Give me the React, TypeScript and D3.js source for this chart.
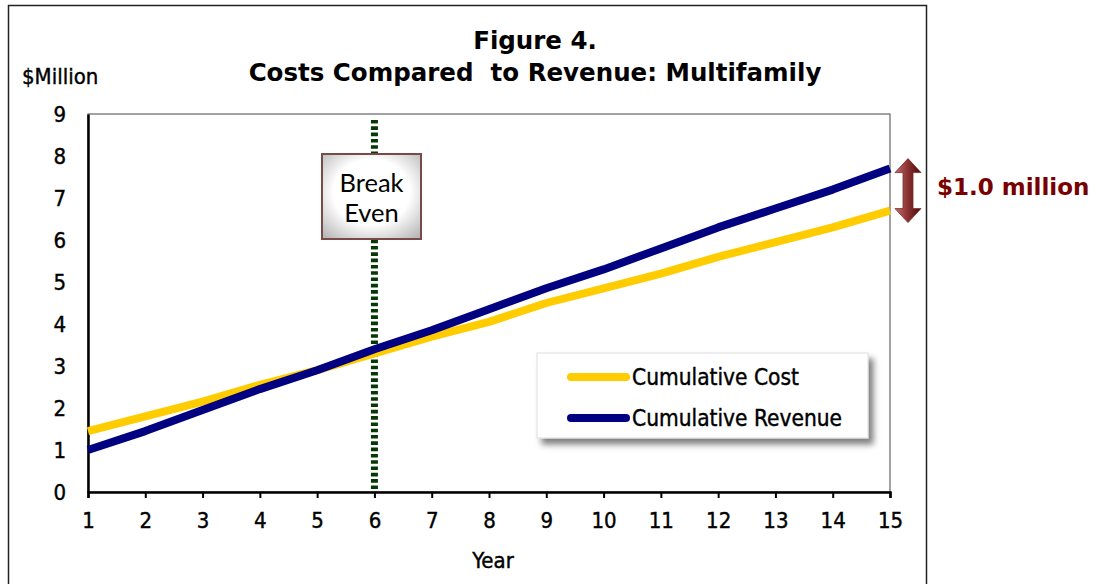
import { useEffect, useRef } from 'react';
import * as d3 from 'd3';

const years = [1, 2, 3, 4, 5, 6, 7, 8, 9, 10, 11, 12, 13, 14, 15];
const cumulativeCost = [1.45, 1.8, 2.15, 2.55, 2.9, 3.3, 3.7, 4.05, 4.5, 4.85, 5.2, 5.6, 5.95, 6.3, 6.7];
const cumulativeRevenue = [1.0, 1.45, 1.95, 2.45, 2.9, 3.4, 3.85, 4.35, 4.85, 5.3, 5.8, 6.3, 6.75, 7.2, 7.7];
const yTicks = [0, 1, 2, 3, 4, 5, 6, 7, 8, 9];
const breakEvenYear = 6;
const seriesNames = ['Cumulative Cost', 'Cumulative Revenue'];
const seriesColors = ['#FFCC00', '#000080'];

export default function App() {
  const svgRef = useRef<SVGSVGElement>(null);

  useEffect(() => {
    const svg = d3.select(svgRef.current);
    svg.selectAll('*').remove();

    const W = 1094, H = 584;
    const m = { left: 88, right: 890, top: 114, bottom: 492 };
    const bold = 'DejaVu Sans, Verdana, sans-serif';
    const cond = '"DejaVu Sans Condensed", "DejaVu Sans", sans-serif';

    const x = d3.scaleLinear().domain([1, 15]).range([m.left, m.right]);
    const y = d3.scaleLinear().domain([0, 9]).range([m.bottom, m.top]);

    const defs = svg.append('defs');
    const sh = defs.append('filter').attr('id', 'shadow').attr('x', '-10%').attr('y', '-20%').attr('width', '130%').attr('height', '160%');
    sh.append('feDropShadow').attr('dx', 5).attr('dy', 6).attr('stdDeviation', 3).attr('flood-color', '#000').attr('flood-opacity', 0.5);

    const bev = defs.append('radialGradient').attr('id', 'bevel').attr('cx', '50%').attr('cy', '45%').attr('r', '70%');
    bev.append('stop').attr('offset', '55%').attr('stop-color', '#ffffff');
    bev.append('stop').attr('offset', '100%').attr('stop-color', '#b8b8b8');

    const arrowGrad = defs.append('linearGradient').attr('id', 'arrowGrad').attr('x1', 0).attr('x2', 1).attr('y1', 0).attr('y2', 0);
    arrowGrad.append('stop').attr('offset', '0%').attr('stop-color', '#c07070');
    arrowGrad.append('stop').attr('offset', '50%').attr('stop-color', '#8a3030');
    arrowGrad.append('stop').attr('offset', '100%').attr('stop-color', '#4a0a0a');

    svg.append('rect').attr('width', W).attr('height', H).attr('fill', '#fff');

    // outer frame
    svg.append('path')
      .attr('d', 'M8.5,600 V5.5 H926.5 V600')
      .attr('fill', 'none').attr('stroke', '#222').attr('stroke-width', 1.5);

    // titles
    svg.append('text').attr('x', 535).attr('y', 49).attr('text-anchor', 'middle')
      .attr('font-family', bold).attr('font-weight', 'bold').attr('font-size', 24.5).text('Figure 4.');
    svg.append('text').attr('x', 535).attr('y', 81).attr('text-anchor', 'middle')
      .attr('font-family', bold).attr('font-weight', 'bold').attr('font-size', 24.5)
      .attr('xml:space', 'preserve').text('Costs Compared  to Revenue: Multifamily');
    svg.append('text').attr('x', 22).attr('y', 84)
      .attr('font-family', cond).attr('font-size', 22).attr('stroke', '#000').attr('stroke-width', 0.4).text('$Million');

    // plot border
    svg.append('rect').attr('x', m.left).attr('y', m.top).attr('width', m.right - m.left).attr('height', m.bottom - m.top)
      .attr('fill', 'none').attr('stroke', '#444').attr('stroke-width', 1);

    // y axis
    const yAxis = svg.append('g').attr('transform', `translate(${m.left},0)`)
      .call(d3.axisLeft(y).tickValues(yTicks).tickSize(0).tickPadding(22));
    yAxis.select('.domain').attr('stroke', '#000').attr('stroke-width', 2.5);
    yAxis.selectAll('text').attr('font-family', cond).attr('font-size', 22).attr('fill', '#000')
      .attr('stroke', '#000').attr('stroke-width', 0.4);

    // x axis
    const xAxis = svg.append('g').attr('transform', `translate(0,${m.bottom})`)
      .call(d3.axisBottom(x).tickValues(years).tickFormat(d3.format('d')).tickSizeOuter(0).tickSize(6).tickPadding(14));
    xAxis.select('.domain').attr('stroke', '#000').attr('stroke-width', 2.5);
    xAxis.selectAll('line').attr('stroke', '#000').attr('stroke-width', 2);
    xAxis.selectAll('text').attr('font-family', cond).attr('font-size', 22).attr('fill', '#000')
      .attr('stroke', '#000').attr('stroke-width', 0.4);

    svg.append('text').attr('x', 493).attr('y', 568).attr('text-anchor', 'middle')
      .attr('font-family', cond).attr('font-size', 22).attr('stroke', '#000').attr('stroke-width', 0.4).text('Year');

    // break-even dotted line
    svg.append('line')
      .attr('x1', x(breakEvenYear)).attr('x2', x(breakEvenYear))
      .attr('y1', m.top + 6).attr('y2', m.bottom)
      .attr('stroke', '#063806').attr('stroke-width', 7)
      .attr('stroke-dasharray', '3.6 2.7');

    // series lines
    const line = d3.line<number>().x((_, i) => x(years[i])).y((d) => y(d));
    [cumulativeCost, cumulativeRevenue].forEach((vals, i) => {
      svg.append('path').datum(vals)
        .attr('fill', 'none').attr('stroke', seriesColors[i]).attr('stroke-width', 8)
        .attr('stroke-linejoin', 'round').attr('d', line);
    });

    // break-even box
    const bx = 322, by = 154, bw = 99, bh = 85;
    svg.append('rect').attr('x', bx).attr('y', by).attr('width', bw).attr('height', bh)
      .attr('fill', 'url(#bevel)').attr('stroke', '#7a4a4a').attr('stroke-width', 2);
    const bt = svg.append('text').attr('text-anchor', 'middle')
      .attr('font-family', 'Lato, "Open Sans", sans-serif').attr('font-size', 25.5).attr('fill', '#000');
    bt.append('tspan').attr('x', bx + bw / 2).attr('y', by + 38).text('Break');
    bt.append('tspan').attr('x', bx + bw / 2).attr('y', by + 68).text('Even');

    // legend
    const lx = 537, ly = 353, lw = 331, lh = 85;
    svg.append('rect').attr('x', lx).attr('y', ly).attr('width', lw).attr('height', lh)
      .attr('fill', '#fff').attr('stroke', '#ddd').attr('filter', 'url(#shadow)');
    seriesNames.forEach((name, i) => {
      const yy = ly + 24 + i * 41;
      svg.append('line').attr('x1', lx + 34).attr('x2', lx + 89).attr('y1', yy).attr('y2', yy)
        .attr('stroke', seriesColors[i]).attr('stroke-width', 8).attr('stroke-linecap', 'round');
      svg.append('text').attr('x', lx + 95).attr('y', yy + 8)
        .attr('font-family', cond).attr('font-size', 22.5)
        .attr('fill', '#000').attr('stroke', '#000').attr('stroke-width', 0.4).text(name);
    });

    // $1.0 million arrow
    const ax = 908, ay1 = y(cumulativeRevenue[14]) - 10, ay2 = y(cumulativeCost[14]) + 12;
    const hw = 13, hh = 14, sw = 5;
    svg.append('path')
      .attr('d', `M${ax},${ay1} L${ax + hw},${ay1 + hh} L${ax + sw},${ay1 + hh} L${ax + sw},${ay2 - hh} L${ax + hw},${ay2 - hh} L${ax},${ay2} L${ax - hw},${ay2 - hh} L${ax - sw},${ay2 - hh} L${ax - sw},${ay1 + hh} L${ax - hw},${ay1 + hh} Z`)
      .attr('fill', 'url(#arrowGrad)').attr('stroke', '#7a2a2a').attr('stroke-width', 0.8);
    svg.append('text').attr('x', 937).attr('y', 195)
      .attr('font-family', bold).attr('font-weight', 'bold').attr('font-size', 23)
      .attr('fill', '#7a0000').text('$1.0 million');
  }, []);

  return <svg ref={svgRef} width={1094} height={584} style={{ display: 'block', position: 'absolute', left: 0, top: 0 }} />;
}
